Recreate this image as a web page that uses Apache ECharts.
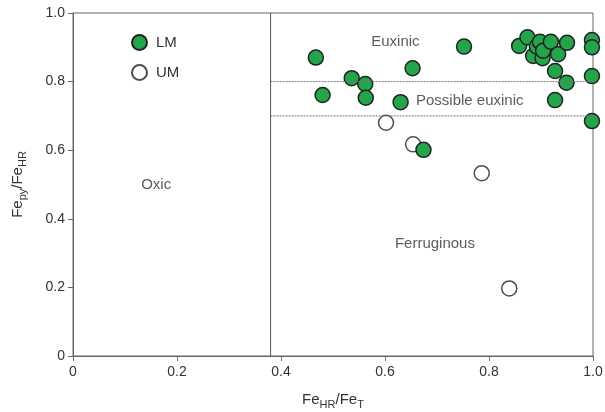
<!DOCTYPE html>
<html>
<head>
<meta charset="utf-8">
<script src="https://cdn.jsdelivr.net/npm/echarts@6/dist/echarts.min.js"></script>
<style>
  html, body { margin: 0; padding: 0; background: #fff; }
  #chart { width: 605px; height: 412px; }
</style>
</head>
<body>
<div id="chart"></div>
<script>
// LM samples [FeHR/FeT, Fepy/FeHR]
const lmPoints = [
  [0.467, 0.870], [0.480, 0.761], [0.536, 0.810], [0.562, 0.793], [0.563, 0.753],
  [0.630, 0.740], [0.653, 0.839], [0.674, 0.601], [0.752, 0.902],
  [0.858, 0.904], [0.874, 0.929], [0.885, 0.875], [0.892, 0.902], [0.898, 0.916],
  [0.903, 0.868], [0.904, 0.890], [0.919, 0.916], [0.933, 0.880], [0.950, 0.913],
  [0.927, 0.831], [0.949, 0.797], [0.927, 0.746],
  [0.998, 0.921], [0.998, 0.900], [0.998, 0.816], [0.998, 0.685]
];
// UM samples
const umPoints = [
  [0.602, 0.680], [0.654, 0.617], [0.786, 0.533], [0.839, 0.197]
];
// field boundaries
const oxicLimit = 0.38;
const euxinicLimit = 0.8;
const possibleLimit = 0.7;
// region labels [x, y, text]
const regionLabels = [
  [0.16, 0.50, "Oxic"],
  [0.62, 0.915, "Euxinic"],
  [0.763, 0.743, "Possible euxinic"],
  [0.696, 0.327, "Ferruginous"]
];

const chart = echarts.init(document.getElementById("chart"));

const tickFmt = function (v) {
  return v === 0 ? "0" : v.toFixed(1);
};

const nameRich = {
  a: { fontSize: 15, color: "#333", fontFamily: "Liberation Sans" },
  s: { fontSize: 11, color: "#333", fontFamily: "Liberation Sans", verticalAlign: "bottom", padding: [9, 0, 0, 0] },
};

chart.setOption({
  animation: false,
  grid: {
    left: 73,
    right: 12,
    top: 13,
    bottom: 56,
    outerBoundsMode: "none",
    show: true,
    borderColor: "#666",
    borderWidth: 1,
  },
  legend: {
    orient: "vertical",
    left: 126,
    top: 29,
    itemWidth: 15,
    itemHeight: 15,
    itemGap: 13,
    data: ["LM", "UM"],
    textStyle: { fontSize: 15, color: "#333", fontFamily: "Liberation Sans", padding: [0, 0, 0, 4] },
  },
  xAxis: {
    type: "value",
    min: 0,
    max: 1,
    interval: 0.2,
    splitLine: { show: false },
    axisLine: { lineStyle: { color: "#666" } },
    axisTick: { show: true, length: 5, lineStyle: { color: "#666" } },
    axisLabel: { formatter: tickFmt, color: "#333", fontSize: 14, margin: 9, fontFamily: "Liberation Sans" },
    name: "{a|Fe}{s|HR}{a|/Fe}{s|T}",
    nameLocation: "middle",
    nameGap: 34,
    nameTextStyle: { rich: nameRich },
  },
  yAxis: {
    type: "value",
    min: 0,
    max: 1,
    interval: 0.2,
    splitLine: { show: false },
    axisLine: { lineStyle: { color: "#666" } },
    axisTick: { show: true, length: 5, lineStyle: { color: "#666" } },
    axisLabel: { formatter: tickFmt, color: "#333", fontSize: 14, margin: 8, fontFamily: "Liberation Sans" },
    name: "{a|Fe}{s|py}{a|/Fe}{s|HR}",
    nameLocation: "middle",
    nameGap: 45,
    nameTextStyle: { rich: nameRich },
  },
  series: [
    {
      type: "line",
      data: [[oxicLimit, 0], [oxicLimit, 1]],
      symbol: "none",
      silent: true,
      lineStyle: { color: "#555", width: 1 },
    },
    {
      type: "line",
      data: [[oxicLimit, euxinicLimit], [1, euxinicLimit]],
      symbol: "none",
      silent: true,
      lineStyle: { color: "#777", width: 1, type: [2, 1] },
    },
    {
      type: "line",
      data: [[oxicLimit, possibleLimit], [1, possibleLimit]],
      symbol: "none",
      silent: true,
      lineStyle: { color: "#777", width: 1, type: [2, 1] },
    },
    {
      type: "scatter",
      data: regionLabels.map(function (d) { return { value: [d[0], d[1]], name: d[2] }; }),
      symbolSize: 0,
      silent: true,
      label: {
        show: true,
        position: "inside",
        formatter: "{b}",
        fontSize: 15,
        color: "#333",
        fontFamily: "Liberation Sans",
      },
    },
    {
      name: "UM",
      type: "scatter",
      data: umPoints,
      symbol: "circle",
      symbolSize: 15,
      itemStyle: { color: "#fff", borderColor: "#222", borderWidth: 1.5 },
    },
    {
      name: "LM",
      type: "scatter",
      data: lmPoints,
      symbol: "circle",
      symbolSize: 15,
      itemStyle: { color: "#21a64a", borderColor: "#222", borderWidth: 1.5, opacity: 1 },
    },
  ],
});
</script>
</body>
</html>
